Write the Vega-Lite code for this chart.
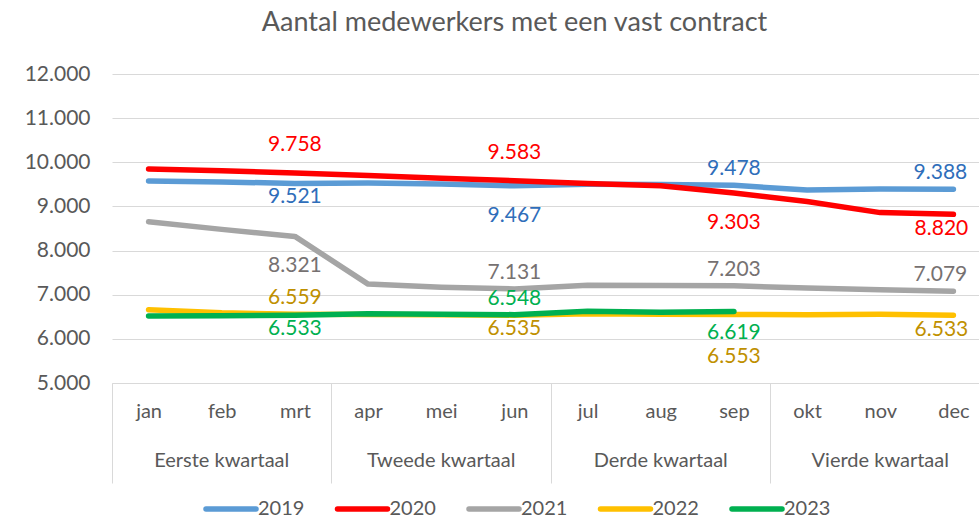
{
  "$schema": "https://vega.github.io/schema/vega-lite/v6.json",
  "width": 867,
  "height": 309,
  "autosize": {"type": "none"},
  "padding": {"left": 112, "top": 74, "right": 0, "bottom": 138},
  "title": {
    "text": "Aantal medewerkers met een vast contract",
    "font": "Lato",
    "fontSize": 27,
    "fontWeight": "normal",
    "color": "#595959",
    "anchor": "middle",
    "dx": -31,
    "offset": 26
  },
  "config": {
    "font": "Lato",
    "view": {"stroke": null},
    "locale": {"number": {"decimal": ",", "thousands": ".", "grouping": [3], "currency": ["€", ""]}}
  },
  "layer": [
    {
      "data": {
        "values": [
          {"jaar": "2019", "maand": "jan", "waarde": 9576},
          {"jaar": "2019", "maand": "feb", "waarde": 9555},
          {"jaar": "2019", "maand": "mrt", "waarde": 9521},
          {"jaar": "2019", "maand": "apr", "waarde": 9530},
          {"jaar": "2019", "maand": "mei", "waarde": 9510},
          {"jaar": "2019", "maand": "jun", "waarde": 9467},
          {"jaar": "2019", "maand": "jul", "waarde": 9500},
          {"jaar": "2019", "maand": "aug", "waarde": 9498},
          {"jaar": "2019", "maand": "sep", "waarde": 9478},
          {"jaar": "2019", "maand": "okt", "waarde": 9370},
          {"jaar": "2019", "maand": "nov", "waarde": 9395},
          {"jaar": "2019", "maand": "dec", "waarde": 9388},
          {"jaar": "2020", "maand": "jan", "waarde": 9848},
          {"jaar": "2020", "maand": "feb", "waarde": 9810},
          {"jaar": "2020", "maand": "mrt", "waarde": 9758},
          {"jaar": "2020", "maand": "apr", "waarde": 9700},
          {"jaar": "2020", "maand": "mei", "waarde": 9640},
          {"jaar": "2020", "maand": "jun", "waarde": 9583},
          {"jaar": "2020", "maand": "jul", "waarde": 9520},
          {"jaar": "2020", "maand": "aug", "waarde": 9470},
          {"jaar": "2020", "maand": "sep", "waarde": 9303},
          {"jaar": "2020", "maand": "okt", "waarde": 9110},
          {"jaar": "2020", "maand": "nov", "waarde": 8860},
          {"jaar": "2020", "maand": "dec", "waarde": 8820},
          {"jaar": "2021", "maand": "jan", "waarde": 8654},
          {"jaar": "2021", "maand": "feb", "waarde": 8480},
          {"jaar": "2021", "maand": "mrt", "waarde": 8321},
          {"jaar": "2021", "maand": "apr", "waarde": 7240},
          {"jaar": "2021", "maand": "mei", "waarde": 7170},
          {"jaar": "2021", "maand": "jun", "waarde": 7131},
          {"jaar": "2021", "maand": "jul", "waarde": 7215},
          {"jaar": "2021", "maand": "aug", "waarde": 7210},
          {"jaar": "2021", "maand": "sep", "waarde": 7203},
          {"jaar": "2021", "maand": "okt", "waarde": 7150},
          {"jaar": "2021", "maand": "nov", "waarde": 7110},
          {"jaar": "2021", "maand": "dec", "waarde": 7079},
          {"jaar": "2022", "maand": "jan", "waarde": 6660},
          {"jaar": "2022", "maand": "feb", "waarde": 6590},
          {"jaar": "2022", "maand": "mrt", "waarde": 6559},
          {"jaar": "2022", "maand": "apr", "waarde": 6550},
          {"jaar": "2022", "maand": "mei", "waarde": 6545},
          {"jaar": "2022", "maand": "jun", "waarde": 6535},
          {"jaar": "2022", "maand": "jul", "waarde": 6570},
          {"jaar": "2022", "maand": "aug", "waarde": 6560},
          {"jaar": "2022", "maand": "sep", "waarde": 6553},
          {"jaar": "2022", "maand": "okt", "waarde": 6545},
          {"jaar": "2022", "maand": "nov", "waarde": 6555},
          {"jaar": "2022", "maand": "dec", "waarde": 6533},
          {"jaar": "2023", "maand": "jan", "waarde": 6520},
          {"jaar": "2023", "maand": "feb", "waarde": 6525},
          {"jaar": "2023", "maand": "mrt", "waarde": 6533},
          {"jaar": "2023", "maand": "apr", "waarde": 6570},
          {"jaar": "2023", "maand": "mei", "waarde": 6560},
          {"jaar": "2023", "maand": "jun", "waarde": 6548},
          {"jaar": "2023", "maand": "jul", "waarde": 6625},
          {"jaar": "2023", "maand": "aug", "waarde": 6605},
          {"jaar": "2023", "maand": "sep", "waarde": 6619}
        ]
      },
      "encoding": {
        "x": {
          "field": "maand",
          "type": "ordinal",
          "sort": ["jan", "feb", "mrt", "apr", "mei", "jun", "jul", "aug", "sep", "okt", "nov", "dec"],
          "scale": {
            "type": "point",
            "domain": ["jan", "feb", "mrt", "apr", "mei", "jun", "jul", "aug", "sep", "okt", "nov", "dec"],
            "range": [0, 878],
            "padding": 0.5
          },
          "axis": {
            "title": null,
            "orient": "bottom",
            "domain": true,
            "domainColor": "#D9D9D9",
            "domainWidth": 1,
            "ticks": false,
            "grid": false,
            "labelAngle": 0,
            "labelPadding": 18,
            "labelFont": "Lato",
            "labelFontSize": 20,
            "labelColor": "#595959"
          }
        },
        "y": {
          "field": "waarde",
          "type": "quantitative",
          "scale": {"domain": [5000, 12000], "nice": false, "zero": false},
          "axis": {
            "title": null,
            "values": [5000, 6000, 7000, 8000, 9000, 10000, 11000, 12000],
            "format": ",.0f",
            "domain": false,
            "ticks": false,
            "grid": true,
            "gridColor": "#D9D9D9",
            "gridWidth": 1,
            "labelPadding": 22,
            "labelFont": "Lato",
            "labelFontSize": 21,
            "labelColor": "#595959"
          }
        }
      },
      "layer": [
        {
          "mark": {"type": "line", "strokeWidth": 5.5, "strokeCap": "round", "strokeJoin": "round"},
          "encoding": {
            "color": {
              "field": "jaar",
              "type": "nominal",
              "scale": {
                "domain": ["2019", "2020", "2021", "2022", "2023"],
                "range": ["#5B9BD5", "#FF0000", "#A5A5A5", "#FFC000", "#00B050"]
              },
              "legend": {
                "title": null,
                "orient": "none",
                "direction": "horizontal",
                "legendX": 88,
                "legendY": 422,
                "symbolType": "M-2.5,0H2.5",
                "symbolSize": 400,
                "symbolOffset": 18,
                "symbolStrokeWidth": 5.5,
                "labelFont": "Lato",
                "labelFontSize": 20,
                "labelColor": "#595959",
                "labelOffset": 14,
                "columnPadding": 21.5,
                "encode": {"symbols": {"update": {"strokeCap": {"value": "round"}}}}
              }
            }
          }
        },
        {
          "encoding": {
            "text": {"field": "waarde", "type": "quantitative", "format": ",.0f"},
            "color": {
              "field": "jaar",
              "type": "nominal",
              "scale": {
                "domain": ["2019", "2020", "2021", "2022", "2023"],
                "range": ["#2F6EBA", "#FF0000", "#767171", "#BF9000", "#00B050"]
              },
              "legend": null
            }
          },
          "layer": [
            {
              "transform": [{"filter": "indexof(['2019-sep','2021-jun','2021-sep','2022-mrt','2023-jun'], datum.jaar + '-' + datum.maand) >= 0"}],
              "mark": {"type": "text", "fontSize": 21, "baseline": "middle", "dy": -16}
            },
            {
              "transform": [{"filter": "indexof(['2019-dec','2021-dec'], datum.jaar + '-' + datum.maand) >= 0"}],
              "mark": {"type": "text", "fontSize": 21, "baseline": "middle", "dy": -16, "dx": -13}
            },
            {
              "transform": [{"filter": "indexof(['2020-mrt','2020-jun'], datum.jaar + '-' + datum.maand) >= 0"}],
              "mark": {"type": "text", "fontSize": 21, "baseline": "middle", "dy": -28}
            },
            {
              "transform": [{"filter": "indexof(['2019-mrt','2022-jun','2023-mrt'], datum.jaar + '-' + datum.maand) >= 0"}],
              "mark": {"type": "text", "fontSize": 21, "baseline": "middle", "dy": 14}
            },
            {
              "transform": [{"filter": "indexof(['2020-dec','2022-dec'], datum.jaar + '-' + datum.maand) >= 0"}],
              "mark": {"type": "text", "fontSize": 21, "baseline": "middle", "dy": 15, "dx": -12}
            },
            {
              "transform": [{"filter": "indexof(['2023-sep'], datum.jaar + '-' + datum.maand) >= 0"}],
              "mark": {"type": "text", "fontSize": 21, "baseline": "middle", "dy": 21}
            },
            {
              "transform": [{"filter": "indexof(['2019-jun','2020-sep','2021-mrt'], datum.jaar + '-' + datum.maand) >= 0"}],
              "mark": {"type": "text", "fontSize": 21, "baseline": "middle", "dy": 30}
            },
            {
              "transform": [{"filter": "indexof(['2022-sep'], datum.jaar + '-' + datum.maand) >= 0"}],
              "mark": {"type": "text", "fontSize": 21, "baseline": "middle", "dy": 43}
            }
          ]
        }
      ],
      "resolve": {"scale": {"color": "independent"}}
    },
    {
      "data": {
        "values": [
          {"kwartaal": "Eerste kwartaal"},
          {"kwartaal": "Tweede kwartaal"},
          {"kwartaal": "Derde kwartaal"},
          {"kwartaal": "Vierde kwartaal"}
        ]
      },
      "mark": {"type": "point", "opacity": 0},
      "encoding": {
        "x": {
          "field": "kwartaal",
          "type": "ordinal",
          "sort": ["Eerste kwartaal", "Tweede kwartaal", "Derde kwartaal", "Vierde kwartaal"],
          "scale": {
            "type": "band",
            "domain": ["Eerste kwartaal", "Tweede kwartaal", "Derde kwartaal", "Vierde kwartaal"],
            "range": [0, 878],
            "paddingInner": 0,
            "paddingOuter": 0
          },
          "axis": {
            "title": null,
            "orient": "bottom",
            "offset": 0,
            "domain": false,
            "grid": false,
            "ticks": true,
            "tickSize": 100,
            "tickColor": "#D9D9D9",
            "tickWidth": 1,
            "bandPosition": 0,
            "labelAngle": 0,
            "labelPadding": -33,
            "labelFont": "Lato",
            "labelFontSize": 20,
            "labelColor": "#595959"
          }
        }
      }
    }
  ],
  "resolve": {"scale": {"x": "independent"}, "axis": {"x": "independent"}}
}
